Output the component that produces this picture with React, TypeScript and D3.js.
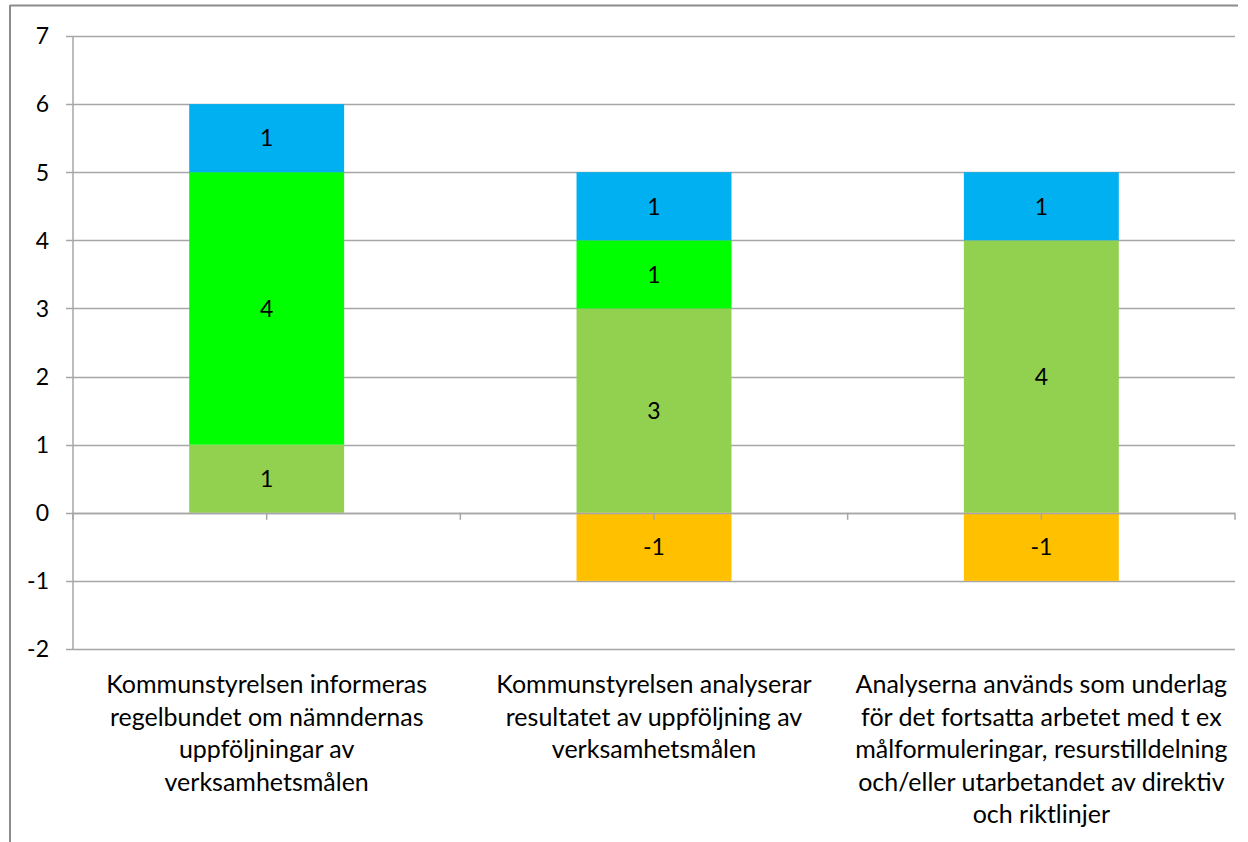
import React from "react";
import * as d3 from "d3";

const categories = ["c1", "c2", "c3"];
const categoryLabels: string[][] = [
  ["Kommunstyrelsen informeras", "regelbundet om nämndernas", "uppföljningar av", "verksamhetsmålen"],
  ["Kommunstyrelsen analyserar", "resultatet av uppföljning av", "verksamhetsmålen"],
  ["Analyserna används som underlag", "för det fortsatta arbetet med t ex", "målformuleringar, resurstilldelning", "och/eller utarbetandet av direktiv", "och riktlinjer"],
];
const seriesKeys = ["lightgreen", "green", "blue", "orange"];
const seriesColors = ["#92D050", "#00FF00", "#00B0F0", "#FFC000"];
const lightGreenValues = [1, 3, 4];
const greenValues = [4, 1, 0];
const blueValues = [1, 1, 1];
const orangeValues = [0, -1, -1];
const yTicks = [-2, -1, 0, 1, 2, 3, 4, 5, 6, 7];

const W = 1248;
const H = 842;
const plot = { left: 73, right: 1235, top: 36, bottom: 649 };
const FONT = "Lato, 'Open Sans', sans-serif";

export default function App() {
  const rows = categories.map((c, i) => ({
    cat: c,
    lightgreen: lightGreenValues[i],
    green: greenValues[i],
    blue: blueValues[i],
    orange: orangeValues[i],
  }));
  const stack = d3
    .stack<any>()
    .keys(seriesKeys)
    .offset(d3.stackOffsetDiverging);
  const layers = stack(rows);

  const x = d3
    .scaleBand()
    .domain(categories)
    .range([plot.left, plot.right])
    .paddingInner(0.6)
    .paddingOuter(0.3);
  const xOuter = d3.scaleBand().domain(categories).range([plot.left, plot.right]);
  const y = d3.scaleLinear().domain([-2, 7]).range([plot.bottom, plot.top]);

  const catTicks: number[] = [];
  categories.forEach((c) => {
    const s = xOuter(c)!;
    catTicks.push(s, s + xOuter.bandwidth() / 2);
  });
  catTicks.push(plot.right);

  return (
    <svg
      width={W}
      height={H}
      style={{ position: "absolute", left: 0, top: 0, background: "#fff" }}
      fontFamily={FONT}
    >
      <line x1={10} y1={5.5} x2={1238} y2={5.5} stroke="#8c8c8c" strokeWidth={2} />
      <line x1={10} y1={5} x2={10} y2={H} stroke="#8c8c8c" strokeWidth={2} />

      {yTicks.map((t) => (
        <g key={t}>
          <line
            x1={plot.left - 7}
            x2={plot.right}
            y1={Math.round(y(t)) + 0.5}
            y2={Math.round(y(t)) + 0.5}
            stroke="#a6a6a6"
            strokeWidth={1.5}
          />
          <text
            x={49}
            y={y(t)}
            dy="0.36em"
            textAnchor="end"
            fontSize={23}
            fill="#000"
          >
            {t}
          </text>
        </g>
      ))}
      <line x1={plot.left} x2={plot.left} y1={plot.top} y2={plot.bottom} stroke="#a6a6a6" strokeWidth={1.5} />

      {layers.map((layer, li) => (
        <g key={layer.key} fill={seriesColors[li]}>
          {layer.map((d, i) => {
            const v = d[1] - d[0];
            if (v === 0) return null;
            return (
              <rect
                key={i}
                x={x(categories[i])}
                y={y(d[1])}
                width={x.bandwidth()}
                height={y(d[0]) - y(d[1])}
              />
            );
          })}
        </g>
      ))}

      <line x1={plot.left} x2={plot.right} y1={Math.round(y(0)) + 0.5} y2={Math.round(y(0)) + 0.5} stroke="#a6a6a6" strokeWidth={1.5} />
      {catTicks.map((tx, i) => (
        <line key={i} x1={tx} x2={tx} y1={y(0)} y2={y(0) + 7} stroke="#a6a6a6" strokeWidth={1.5} />
      ))}

      {layers.map((layer) => (
        <g key={"l" + layer.key}>
          {layer.map((d, i) => {
            const v = (rows[i] as any)[layer.key];
            if (v === 0) return null;
            return (
              <text
                key={i}
                x={x(categories[i])! + x.bandwidth() / 2}
                y={y((d[0] + d[1]) / 2)}
                dy="0.36em"
                textAnchor="middle"
                fontSize={23}
                fill="#000"
              >
                {v}
              </text>
            );
          })}
        </g>
      ))}

      {categories.map((c, i) => (
        <text key={c} textAnchor="middle" fontSize={25} fill="#000">
          {categoryLabels[i].map((line, j) => (
            <tspan key={j} x={xOuter(c)! + xOuter.bandwidth() / 2} y={693 + j * 32.5}>
              {line}
            </tspan>
          ))}
        </text>
      ))}
    </svg>
  );
}
